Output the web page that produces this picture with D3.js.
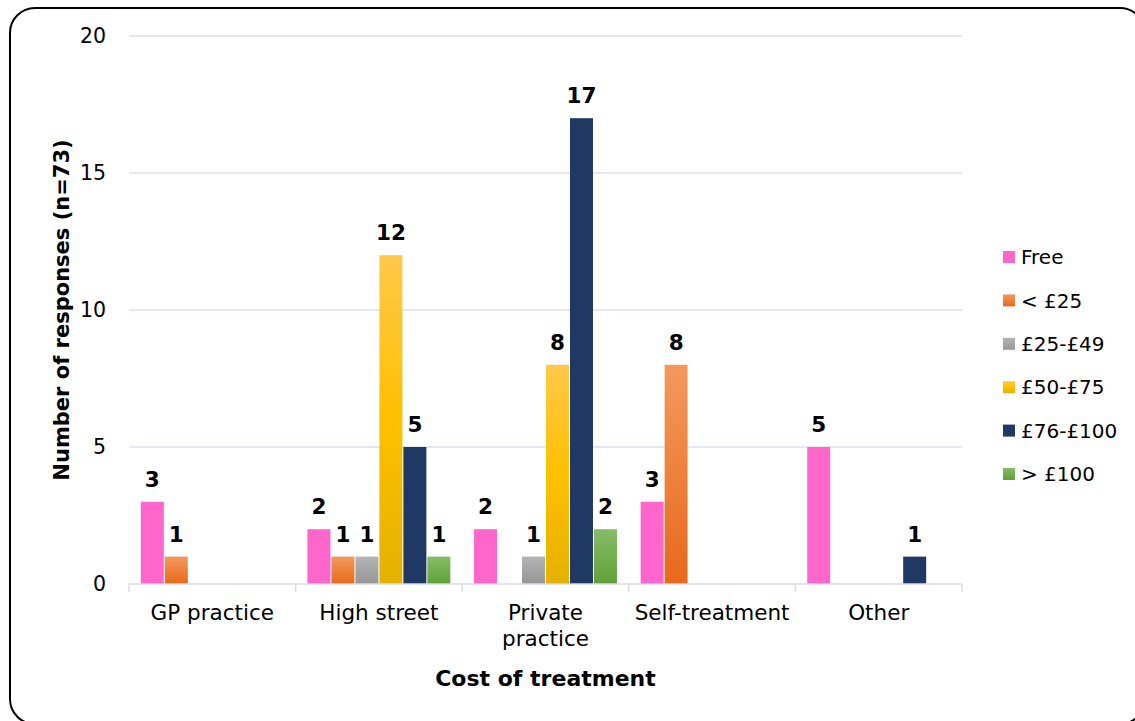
<!DOCTYPE html>
<html>
<head>
<meta charset="utf-8">
<script src="https://cdn.jsdelivr.net/npm/d3@7"></script>
<style>
  body { margin: 0; background: #fff; }
  svg text { font-family: "DejaVu Sans", Verdana, sans-serif; fill: #000; }
</style>
</head>
<body>
<svg id="chart" width="1135" height="721"></svg>
<script>
const categories = ['GP practice', 'High street', 'Private practice', 'Self-treatment', 'Other'];
const seriesNames = ['Free', '< £25', '£25-£49', '£50-£75', '£76-£100', '> £100'];
const free = [3, 2, 2, 3, 5];
const under25 = [1, 1, 0, 8, 0];
const from25to49 = [0, 1, 1, 0, 0];
const from50to75 = [0, 12, 8, 0, 0];
const from76to100 = [0, 5, 17, 0, 1];
const over100 = [0, 1, 2, 0, 0];
const yTicks = [0, 5, 10, 15, 20];

const seriesValues = [free, under25, from25to49, from50to75, from76to100, over100];

// colour stops per series (top -> bottom)
const fills = [
  ['#ff66cc', '#ff66cc'],
  ['#f3995e', '#e8691b'],
  ['#b4b4b4', '#969696'],
  ['#ffc84a', '#ffc000', '#e4b100'],
  ['#203864', '#203864'],
  ['#87bc68', '#5fa136']
];

const svg = d3.select('#chart');
const margin = { left: 129, right: 173, top: 36, bottom: 137 };
const width = 1135 - margin.left - margin.right;
const height = 721 - margin.top - margin.bottom;

// outer rounded frame
svg.append('rect')
  .attr('x', 10).attr('y', 8)
  .attr('width', 1135).attr('height', 716)
  .attr('rx', 25).attr('ry', 25)
  .attr('fill', 'none')
  .attr('stroke', '#000')
  .attr('stroke-width', 2);

const defs = svg.append('defs');
fills.forEach((stops, i) => {
  const g = defs.append('linearGradient')
    .attr('id', 'grad' + i)
    .attr('x1', 0).attr('y1', 0).attr('x2', 0).attr('y2', 1);
  stops.forEach((c, j) => {
    g.append('stop')
      .attr('offset', (j / (stops.length - 1)) * 100 + '%')
      .attr('stop-color', c);
  });
});

const g = svg.append('g').attr('transform', `translate(${margin.left},${margin.top})`);

const x = d3.scaleBand().domain(categories).range([0, width]).paddingInner(0).paddingOuter(0);
const inner = x.bandwidth() * 0.864;
const x1 = d3.scaleBand().domain(seriesNames).range([0, inner]).padding(0);
const y = d3.scaleLinear().domain([0, 20]).range([height, 0]);

// gridlines
g.append('g')
  .selectAll('line')
  .data(yTicks.slice(1))
  .enter()
  .append('line')
  .attr('x1', 0).attr('x2', width)
  .attr('y1', d => y(d)).attr('y2', d => y(d))
  .attr('stroke', '#dde2ea')
  .attr('stroke-width', 1.5);

// y tick labels
g.append('g')
  .selectAll('text')
  .data(yTicks)
  .enter()
  .append('text')
  .attr('x', -23)
  .attr('y', d => y(d))
  .attr('dy', '0.36em')
  .attr('text-anchor', 'end')
  .attr('font-size', 20.5)
  .text(d => d);

// bars
const groups = g.append('g')
  .selectAll('g')
  .data(categories)
  .enter()
  .append('g')
  .attr('transform', d => `translate(${x(d) + (x.bandwidth() - inner) / 2},0)`);

seriesNames.forEach((s, si) => {
  groups.each(function (cat, ci) {
    const v = seriesValues[si][ci];
    if (!v) return;
    const grp = d3.select(this);
    grp.append('rect')
      .attr('x', x1(s) + 0.5)
      .attr('y', y(v))
      .attr('width', x1.bandwidth() - 1)
      .attr('height', y(0) - y(v))
      .attr('fill', `url(#grad${si})`);
    grp.append('text')
      .attr('x', x1(s) + x1.bandwidth() / 2)
      .attr('y', y(v) - 15)
      .attr('text-anchor', 'middle')
      .attr('font-size', 21.5)
      .attr('font-weight', 'bold')
      .text(v);
  });
});

// x axis line + ticks
const axis = g.append('g').attr('transform', `translate(0,${height})`);
axis.append('line')
  .attr('x1', 0).attr('x2', width)
  .attr('y1', 0).attr('y2', 0)
  .attr('stroke', '#d9dde4')
  .attr('stroke-width', 1.5);
axis.selectAll('.tick')
  .data(categories.map(c => x(c)).concat([width]))
  .enter()
  .append('line')
  .attr('class', 'tick')
  .attr('x1', d => d).attr('x2', d => d)
  .attr('y1', 0).attr('y2', 8)
  .attr('stroke', '#d9dde4')
  .attr('stroke-width', 1.5);

// category labels (wrap "Private practice")
axis.selectAll('.cat')
  .data(categories)
  .enter()
  .append('text')
  .attr('class', 'cat')
  .attr('x', d => x(d) + x.bandwidth() / 2)
  .attr('y', 36)
  .attr('text-anchor', 'middle')
  .attr('font-size', 21.5)
  .each(function (d) {
    const lines = d === 'Private practice' ? ['Private', 'practice'] : [d];
    const t = d3.select(this);
    lines.forEach((l, i) => {
      t.append('tspan')
        .attr('x', x(d) + x.bandwidth() / 2)
        .attr('dy', i === 0 ? 0 : 26)
        .text(l);
    });
  });

// axis titles
svg.append('text')
  .attr('x', margin.left + width / 2)
  .attr('y', 686)
  .attr('text-anchor', 'middle')
  .attr('font-size', 22)
  .attr('font-weight', 'bold')
  .text('Cost of treatment');

svg.append('text')
  .attr('transform', `translate(69,${margin.top + height / 2}) rotate(-90)`)
  .attr('text-anchor', 'middle')
  .attr('font-size', 21)
  .attr('font-weight', 'bold')
  .text('Number of responses (n=73)');

// legend
const legend = svg.append('g').attr('transform', 'translate(1003,257)');
seriesNames.forEach((s, i) => {
  const row = legend.append('g').attr('transform', `translate(0,${i * 43.4})`);
  row.append('rect')
    .attr('x', 0).attr('y', -6)
    .attr('width', 12).attr('height', 12)
    .attr('fill', `url(#grad${i})`);
  row.append('text')
    .attr('x', 18)
    .attr('y', 0)
    .attr('dy', '0.36em')
    .attr('font-size', 20)
    .text(s);
});
</script>
</body>
</html>
